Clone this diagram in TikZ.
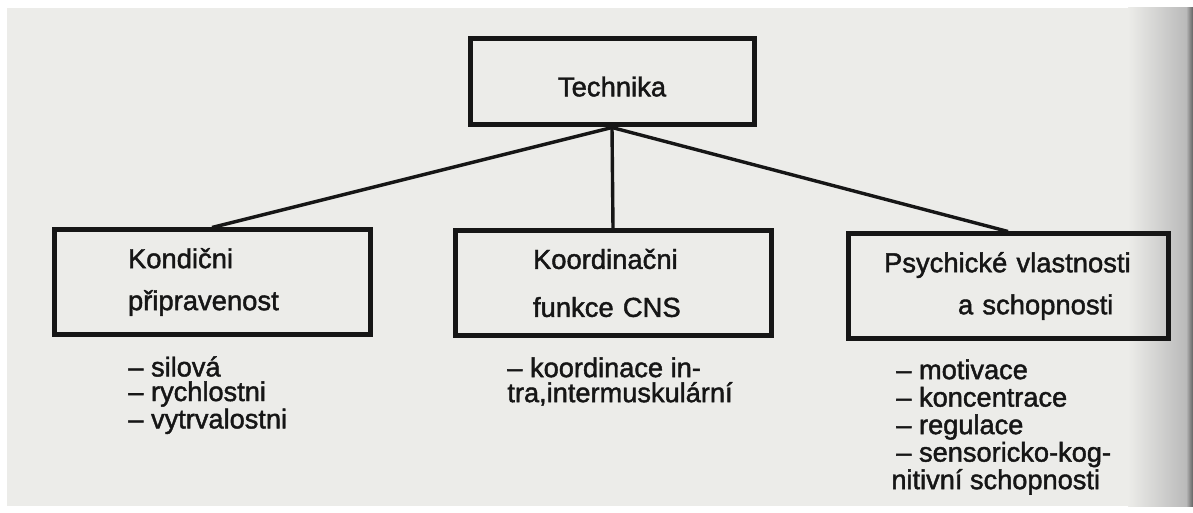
\documentclass[tikz,border=0pt]{standalone}
\usepackage{fontspec}
\setmainfont{Liberation Sans}[RawFeature={embolden=1.6}]
\usetikzlibrary{positioning}
\definecolor{paper}{RGB}{236,236,233}
\definecolor{ink}{RGB}{22,22,22}

\begin{document}
\begin{tikzpicture}[x=0.5pt, y=-0.5pt,
  box/.style={draw=ink, line width=2.5pt, minimum width=158pt, minimum height=52pt,
    align=left, text=ink, font=\fontsize{13.7}{21}\selectfont},
  conn/.style={draw=ink, line width=1.7pt},
  list/.style={anchor=north west, inner sep=0pt, align=left, text=ink}]
  % page
  \fill[white] (0,0) rectangle (1193,513);
  \fill[paper] (7,8) rectangle (1193,506);
  \shade[left color=paper, right color=black!27] (1128,8) rectangle (1186,506);
  \shade[left color=black!27, right color=black!62] (1186,8) rectangle (1193,506);
  % boxes
  \node[box, minimum width=142pt, minimum height=43pt, text height=14.5pt] (tech) at (612,82) {Technika};
  \node[box, text width=84pt] (kond) at (212,282) {Kondični\\připravenost};
  \node[box, text width=80pt, font=\fontsize{13.7}{24}\selectfont] (koord) at (613,283) {Koordinačni\\funkce CNS};
  \node[box, minimum width=160pt, text width=124pt] (psych) at (1008,286)
    {Psychické\ vlastnosti\\\hspace*{37pt}a schopnosti};
  % lines
  \foreach \n in {kond, koord, psych} {
    \draw[conn] (tech.south) -- (\n.north);
  };
  % lists
  \node[list, font=\fontsize{13.6}{12.3}\selectfont] (kondlist) at (128,356)
    {– silová\\– rychlostni\\– vytrvalostni};
  \node[list, font=\fontsize{13.6}{12.5}\selectfont] (koordlist) at (507,357)
    {– koordinace in-\\tra,intermuskulární};
  \node[list, font=\fontsize{13.6}{13.75}\selectfont] (psychlist) at (896,359)
    {– motivace\\– koncentrace\\– regulace\\– sensoricko-kog-\\\hspace*{-2.5pt}nitivní schopnosti};
\end{tikzpicture}
\end{document}
